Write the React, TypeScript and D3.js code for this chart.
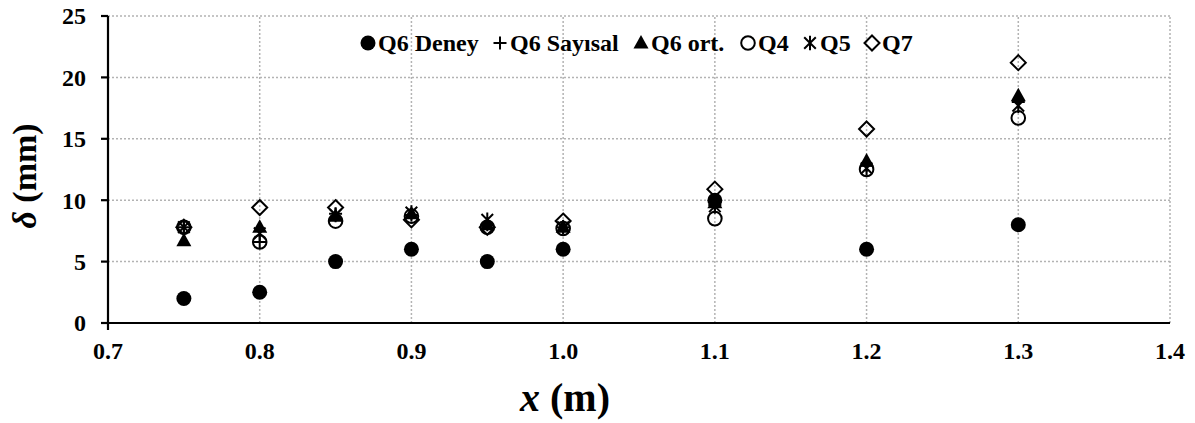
import React from 'react';
import * as d3 from 'd3';

// x konumları (m) ve her seri için çökme değerleri (mm)
const xValues = [0.75, 0.8, 0.85, 0.9, 0.95, 1.0, 1.1, 1.2, 1.3];
const q6Deney = [2, 2.5, 5, 6, 5, 6, 10, 6, 8];
const q6Sayisal = [7.8, 6.6, 8.9, 8.8, 8.0, 7.8, 9.6, 12.8, 18.0];
const q6Ort = [6.7, 7.8, 8.7, 8.9, 8.0, 7.8, 9.8, 13.2, 18.5];
const q4 = [7.8, 6.6, 8.3, 8.7, 7.8, 7.7, 8.5, 12.5, 16.7];
const q5 = [7.8, 7.3, 8.8, 9.0, 8.4, 7.8, 9.5, 12.6, 17.7];
const q7 = [7.8, 9.4, 9.4, 8.4, 7.8, 8.3, 10.9, 15.8, 21.2];

const xTicks = [0.7, 0.8, 0.9, 1.0, 1.1, 1.2, 1.3, 1.4];
const yTicks = [0, 5, 10, 15, 20, 25];

const seriesNames = ['Q6 Deney', 'Q6 Sayısal', 'Q6 ort.', 'Q4', 'Q5', 'Q7'];
const seriesKinds = ['disc', 'plus', 'tri', 'circle', 'star', 'diamond'];
const seriesValues = [q6Deney, q6Sayisal, q6Ort, q4, q5, q7];
const legendX = [368, 500, 641, 748, 810, 872];

const W = 1195;
const H = 423;
const FONT = "'Liberation Serif', 'Times New Roman', Times, serif";

const Marker = ({ kind, x, y }: { kind: string; x: number; y: number }) => {
  const sw = 2;
  switch (kind) {
    case 'disc':
      return <circle cx={x} cy={y} r={7.5} fill="#000" />;
    case 'plus':
      return (
        <path d={`M${x - 6.5},${y}H${x + 6.5}M${x},${y - 6.5}V${y + 6.5}`} stroke="#000" strokeWidth={sw} />
      );
    case 'tri':
      return <path d={`M${x},${y - 8}L${x + 7.5},${y + 5.5}L${x - 7.5},${y + 5.5}Z`} fill="#000" />;
    case 'circle':
      return <circle cx={x} cy={y} r={6.8} fill="none" stroke="#000" strokeWidth={sw} />;
    case 'star': {
      const s = 5.8;
      return (
        <path
          d={`M${x - s},${y - s}L${x + s},${y + s}M${x - s},${y + s}L${x + s},${y - s}M${x},${y - s - 1.5}V${y + s + 1.5}`}
          stroke="#000"
          strokeWidth={sw}
        />
      );
    }
    default:
      return (
        <path
          d={`M${x},${y - 7.5}L${x + 7.5},${y}L${x},${y + 7.5}L${x - 7.5},${y}Z`}
          fill="none"
          stroke="#000"
          strokeWidth={sw}
        />
      );
  }
};

export default function App() {
  const x = d3.scaleLinear().domain([0.7, 1.4]).range([108, 1170]);
  const y = d3.scaleLinear().domain([0, 25]).range([323, 16]);
  const txt = { fontFamily: FONT, fontWeight: 'bold' as const };

  return (
    <svg
      width={W}
      height={H}
      style={{ position: 'absolute', left: 0, top: 0, background: '#fff', ...txt }}
    >
      {/* ızgara */}
      {yTicks.slice(1).map((t) => (
        <line key={'gy' + t} x1={x(0.7)} x2={x(1.4)} y1={y(t)} y2={y(t)} stroke="#b3b3b3" strokeWidth={1.5} strokeDasharray="2,2" />
      ))}
      {xTicks.slice(1).map((t) => (
        <line key={'gx' + t} x1={x(t)} x2={x(t)} y1={y(0)} y2={y(25)} stroke="#b3b3b3" strokeWidth={1.5} strokeDasharray="2,2" />
      ))}

      {/* eksenler */}
      <line x1={x(0.7)} x2={x(1.4)} y1={y(0)} y2={y(0)} stroke="#000" strokeWidth={2.2} />
      <line x1={x(0.7)} x2={x(0.7)} y1={y(25)} y2={y(0) + 7} stroke="#000" strokeWidth={2.2} />
      {yTicks.map((t) => (
        <line key={'ty' + t} x1={x(0.7) - 7} x2={x(0.7)} y1={y(t)} y2={y(t)} stroke="#000" strokeWidth={2.2} />
      ))}

      {yTicks.map((t) => (
        <text key={'ly' + t} x={86} y={y(t)} dy="0.35em" textAnchor="end" fontSize={24} style={txt}>
          {t}
        </text>
      ))}
      {xTicks.map((t) => (
        <text key={'lx' + t} x={x(t)} y={359} textAnchor="middle" fontSize={24} style={txt}>
          {d3.format('.1f')(t)}
        </text>
      ))}

      {/* eksen başlıkları */}
      <text transform="translate(36,176) rotate(-90)" textAnchor="middle" fontSize={34} style={txt}>
        <tspan fontStyle="italic">δ</tspan> (mm)
      </text>
      <text x={565} y={411} textAnchor="middle" fontSize={40} style={txt}>
        <tspan fontStyle="italic">x</tspan> (m)
      </text>

      {/* veri */}
      {seriesValues.map((vals, si) =>
        vals.map((v, i) => <Marker key={si + '-' + i} kind={seriesKinds[si]} x={x(xValues[i])} y={y(v)} />)
      )}

      {/* lejant */}
      {seriesNames.map((name, i) => (
        <g key={'lg' + i}>
          <Marker kind={seriesKinds[i]} x={legendX[i]} y={43} />
          <text x={legendX[i] + 10} y={51} fontSize={24} style={txt}>
            {name}
          </text>
        </g>
      ))}
    </svg>
  );
}
